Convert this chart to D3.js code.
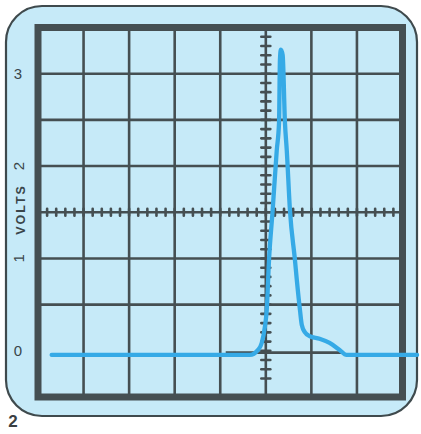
<!DOCTYPE html>
<html>
<head>
<meta charset="utf-8">
<script src="https://cdn.jsdelivr.net/npm/d3@7"></script>
<style>
  body { margin: 0; background: #fff; }
  svg { display: block; }
</style>
</head>
<body>
<svg id="scope" width="421" height="434"></svg>
<script>
// trace: time in screen divisions, voltage in volts
const timeDiv = [0.3, 4.65, 4.83, 4.91, 4.98, 5.02, 5.07, 5.15, 5.24, 5.29, 5.31, 5.33,
  5.37, 5.42, 5.46, 5.53, 5.64, 5.68, 5.75, 5.79, 5.86, 5.96, 6.18, 6.4, 6.62, 6.77, 8.32];
const volts = [-0.045, -0.045, 0.01, 0.085, 0.26, 0.44, 0.98, 1.52, 2.17, 2.47, 3.15, 3.26,
  3.2, 2.47, 2.17, 1.52, 0.98, 0.77, 0.44, 0.28, 0.2, 0.16, 0.13, 0.085, 0.01, -0.045, -0.045];

const voltLabels = ["0", "1", "2", "3"];
const rotatedLabels = ["1", "2"]; // these two are printed sideways in the original
const baseMarker = [4.12, 6.69]; // short dark reference line at 0 V

const dark = "#454f52";

const svg = d3.select("#scope");

// scales: 8 x 8 divisions, 0.5 V per division
const x = d3.scaleLinear().domain([0, 8]).range([38, 402.5]);
const y = d3.scaleLinear().domain([-0.5, 3.5]).range([397, 27.5]);

// rounded screen bezel
svg.append("rect")
  .attr("x", 6).attr("y", 6)
  .attr("width", 411).attr("height", 410)
  .attr("rx", 36)
  .attr("fill", "#c6eaf8")
  .attr("stroke", "#3f4a4d")
  .attr("stroke-width", 2.2);

// grid lines
const grid = svg.append("g").attr("stroke", dark).attr("stroke-width", 2.6);

grid.selectAll(".v")
  .data(d3.range(1, 8))
  .join("line")
  .attr("x1", (d) => x(d)).attr("x2", (d) => x(d))
  .attr("y1", y(3.5)).attr("y2", y(-0.5));

// horizontal lines, the 0 V one is left out
grid.selectAll(".h")
  .data(d3.range(0.5, 3.5, 0.5))
  .join("line")
  .attr("x1", x(0)).attr("x2", x(8))
  .attr("y1", (d) => y(d)).attr("y2", (d) => y(d));

// ticked centre lines
const ticks = svg.append("g").attr("stroke", dark).attr("stroke-width", 2.6)
  .attr("stroke-linecap", "round");

d3.range(1, 40).forEach((i) => {
  const t = i / 5;
  ticks.append("line")
    .attr("x1", x(t)).attr("x2", x(t))
    .attr("y1", y(1.5) - 3.5).attr("y2", y(1.5) + 3.5);
});

d3.range(1, 39).forEach((i) => {
  const v = 3.5 - i / 10;
  ticks.append("line")
    .attr("x1", x(5) - 4.5).attr("x2", x(5) + 4.5)
    .attr("y1", y(v)).attr("y2", y(v));
});

// frame
svg.append("rect")
  .attr("x", x(0)).attr("y", y(3.5))
  .attr("width", x(8) - x(0)).attr("height", y(-0.5) - y(3.5))
  .attr("fill", "none")
  .attr("stroke", dark)
  .attr("stroke-width", 7);

// base marker
svg.append("line")
  .attr("x1", x(baseMarker[0])).attr("x2", x(baseMarker[1]))
  .attr("y1", y(-0.02)).attr("y2", y(-0.02))
  .attr("stroke", dark)
  .attr("stroke-width", 2.6);

// trace
const line = d3.line()
  .x((d, i) => x(timeDiv[i]))
  .y((d) => y(d))
  .curve(d3.curveMonotoneX);

svg.append("path")
  .attr("d", line(volts))
  .attr("fill", "none")
  .attr("stroke", "#36aae6")
  .attr("stroke-width", 4.3)
  .attr("stroke-linejoin", "round")
  .attr("stroke-linecap", "round");

// volt labels
svg.selectAll(".lab")
  .data(voltLabels)
  .join("text")
  .attr("transform", (d) => "translate(18," + y(+d) + ")" +
    (rotatedLabels.includes(d) ? " rotate(-90)" : ""))
  .attr("text-anchor", "middle")
  .attr("dominant-baseline", "central")
  .attr("font-family", "Liberation Sans, Arial, sans-serif")
  .attr("font-size", 15)
  .attr("fill", "#3a464a")
  .text((d) => d);

svg.append("text")
  .attr("transform", "translate(21," + y(1.53) + ") rotate(-90)")
  .attr("text-anchor", "middle")
  .attr("dominant-baseline", "central")
  .attr("font-family", "Liberation Sans, Arial, sans-serif")
  .attr("font-size", 12.5)
  .attr("font-weight", "bold")
  .attr("letter-spacing", 2)
  .attr("fill", "#3a464a")
  .text("VOLTS");

// figure number
svg.append("text")
  .attr("x", 13).attr("y", 427)
  .attr("text-anchor", "middle")
  .attr("font-family", "Liberation Sans, Arial, sans-serif")
  .attr("font-size", 17)
  .attr("font-weight", "bold")
  .attr("fill", "#3a3f42")
  .text("2");
</script>
</body>
</html>
